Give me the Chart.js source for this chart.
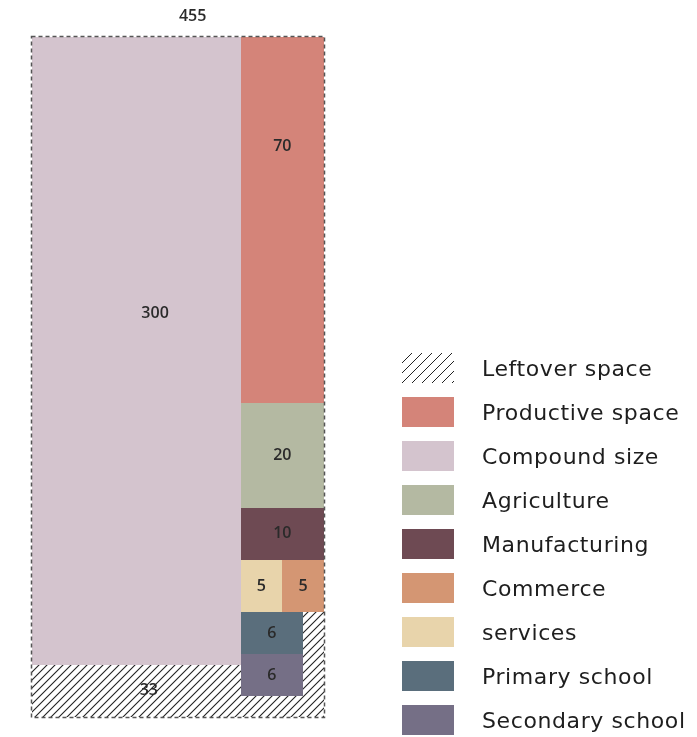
<!DOCTYPE html>
<html>
<head>
<meta charset="utf-8">
<script src="https://cdn.jsdelivr.net/npm/chart.js@4"></script>
<style>
  body { margin: 0; background: #fff; font-family: "Open Sans", sans-serif; }
  #wrap { position: relative; width: 697px; height: 737px; }
  #legend { position: absolute; left: 402px; top: 353px; }
  .item { position: absolute; left: 0; height: 30px; width: 295px; }
  .sw { position: absolute; left: 0; top: 0; width: 52px; height: 30px; }
  .lab { position: absolute; left: 80px; top: 1px; line-height: 30px; font-family: "DejaVu Sans", sans-serif; font-size: 22px; letter-spacing: 0.6px; color: #1e1e1e; white-space: nowrap; }
</style>
</head>
<body>
<div id="wrap">
  <canvas id="chart" width="697" height="737"></canvas>
  <div id="legend"></div>
</div>
<script>
// 値は図から読み取り
const totalValue = 455;
const leftoverValue = 33;
const categories = ['Compound size', 'Productive space', 'Agriculture', 'Manufacturing', 'services', 'Commerce', 'Primary school', 'Secondary school'];
const values = [300, 70, 20, 10, 5, 5, 6, 6];
const colors = {
  'Compound size': '#d4c4ce',
  'Productive space': '#d48479',
  'Agriculture': '#b4b9a2',
  'Manufacturing': '#6e4a53',
  'services': '#e8d4ab',
  'Commerce': '#d49673',
  'Primary school': '#5a6e7c',
  'Secondary school': '#756f86'
};
const legendOrder = ['Leftover space', 'Productive space', 'Compound size', 'Agriculture', 'Manufacturing', 'Commerce', 'services', 'Primary school', 'Secondary school'];

// レイアウト (面積 = 値)
const outerWidth = 14;
const compoundWidth = 10;
const rightRows = [
  { names: ['Productive space'], width: 4 },
  { names: ['Agriculture'], width: 4 },
  { names: ['Manufacturing'], width: 4 },
  { names: ['services', 'Commerce'], width: 4 },
  { names: ['Primary school'], width: 3 },
  { names: ['Secondary school'], width: 3 }
];
const labelAnchor = { 'Compound size': [0.59, 0.44], 'Productive space': [0.5, 0.3] };

function val(name) { return values[categories.indexOf(name)]; }

function buildRects() {
  const rects = [];
  const cv = val('Compound size');
  rects.push({ name: 'Compound size', x0: 0, y0: 0, x1: compoundWidth, y1: cv / compoundWidth });
  let y = 0;
  rightRows.forEach(row => {
    const sum = row.names.reduce((s, n) => s + val(n), 0);
    const h = sum / row.width;
    let x = compoundWidth;
    row.names.forEach(n => {
      const w = row.width * val(n) / sum;
      rects.push({ name: n, x0: x, y0: y, x1: x + w, y1: y + h });
      x += w;
    });
    y += h;
  });
  return rects;
}

// 斜線タイル
function hatchTile(size, lw) {
  const c = document.createElement('canvas');
  c.width = size; c.height = size;
  const g = c.getContext('2d');
  g.fillStyle = '#fff';
  g.fillRect(0, 0, size, size);
  g.strokeStyle = '#222';
  g.lineWidth = lw;
  g.beginPath();
  g.moveTo(-2, size + 2); g.lineTo(size + 2, -2);
  g.moveTo(-2, 2); g.lineTo(2, -2);
  g.moveTo(size - 2, size + 2); g.lineTo(size + 2, size - 2);
  g.stroke();
  return c;
}

const treemapPlugin = {
  id: 'treemap',
  afterDraw(chart) {
    const { ctx } = chart;
    const xs = chart.scales.x, ys = chart.scales.y;
    const px = v => Math.round(xs.getPixelForValue(v));
    const py = v => Math.round(ys.getPixelForValue(v));
    const outerH = totalValue / outerWidth;

    ctx.save();
    // 余りスペース (斜線)
    ctx.fillStyle = ctx.createPattern(hatchTile(8, 1.1), 'repeat');
    ctx.fillRect(px(0), py(0), px(outerWidth) - px(0), py(outerH) - py(0));

    const rects = buildRects();
    rects.forEach(r => {
      ctx.fillStyle = colors[r.name];
      ctx.fillRect(px(r.x0), py(r.y0), px(r.x1) - px(r.x0), py(r.y1) - py(r.y0));
    });

    // 外枠 (破線)
    ctx.setLineDash([4, 3]);
    ctx.strokeStyle = '#555';
    ctx.lineWidth = 1.5;
    ctx.strokeRect(px(0) - 0.5, py(0) - 0.5, px(outerWidth) - px(0) + 1, py(outerH) - py(0) + 1);
    ctx.setLineDash([]);

    // 数値ラベル
    ctx.font = '600 16px "Open Sans", sans-serif';
    ctx.fillStyle = '#2a2a2a';
    ctx.textAlign = 'center';
    ctx.textBaseline = 'middle';
    rects.forEach(r => {
      const a = labelAnchor[r.name] || [0.5, 0.5];
      const cx = r.x0 + (r.x1 - r.x0) * a[0];
      const cy = r.y0 + (r.y1 - r.y0) * a[1];
      ctx.fillText(String(val(r.name)), xs.getPixelForValue(cx), ys.getPixelForValue(cy));
    });
    ctx.fillText(String(leftoverValue), xs.getPixelForValue(compoundWidth * 0.56), ys.getPixelForValue((val('Compound size') / compoundWidth + outerH) / 2));
    ctx.fillText(String(totalValue), xs.getPixelForValue(outerWidth * 0.55), ys.getPixelForValue(-1));
    ctx.restore();
  }
};

new Chart(document.getElementById('chart'), {
  type: 'scatter',
  data: { datasets: [] },
  options: {
    responsive: false,
    animation: false,
    layout: { padding: { left: 32, top: 37, right: 373, bottom: 20 } },
    plugins: { legend: { display: false }, tooltip: { enabled: false } },
    scales: {
      x: { type: 'linear', min: 0, max: outerWidth, display: false },
      y: { type: 'linear', min: 0, max: totalValue / outerWidth, reverse: true, display: false }
    }
  },
  plugins: [treemapPlugin]
});

// 凡例
const legend = document.getElementById('legend');
const legendHatch = hatchTile(10, 1).toDataURL();
legendOrder.forEach((name, i) => {
  const item = document.createElement('div');
  item.className = 'item';
  item.style.top = (i * 44) + 'px';
  const sw = document.createElement('div');
  sw.className = 'sw';
  if (name === 'Leftover space') sw.style.background = 'url(' + legendHatch + ')';
  else sw.style.background = colors[name];
  const lab = document.createElement('div');
  lab.className = 'lab';
  lab.textContent = name;
  item.appendChild(sw);
  item.appendChild(lab);
  legend.appendChild(item);
});
</script>
</body>
</html>
